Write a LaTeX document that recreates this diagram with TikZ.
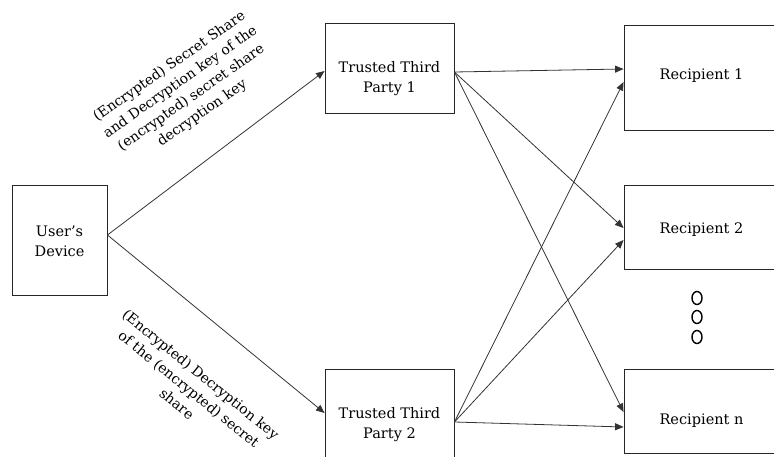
\documentclass[tikz,border=0pt]{standalone}
\usepackage{fontspec}
\setmainfont{DejaVu Serif}
\usetikzlibrary{arrows.meta,shapes.geometric}
\begin{document}
\begin{tikzpicture}[x=1pt,y=-1pt,
  box/.style={draw=black!85, line width=0.9pt, rectangle, inner sep=0pt},
  txt/.style={align=center, font=\fontsize{14.5}{20}\selectfont, inner sep=0pt},
  lbl/.style={align=center, font=\fontsize{14}{19}\selectfont, inner sep=0pt},
  conn/.style={draw=black!80, line width=0.8pt, -{Triangle[length=8.5pt,width=7pt]}},
  dot/.style={draw=black, line width=1.4pt, ellipse, minimum width=10pt, minimum height=13pt, inner sep=0pt}
]
\useasboundingbox (0,0) rectangle (774,457);
% boxes
\node[box, minimum width=95pt, minimum height=110pt] (dev) at (59.5,240) {};
\node[txt] (devt) at (59.5,241) {User's\\Device};
\node[box, minimum width=129pt, minimum height=90pt] (ttp1) at (389.5,68) {};
\node[txt] (ttp1t) at (389.5,79) {Trusted Third\\Party 1};
\node[box, minimum width=129pt, minimum height=112pt] (ttp2) at (389.5,425) {};
\node[txt] (ttp2t) at (389.5,425) {Trusted Third\\Party 2};
\node[box, minimum width=155pt, minimum height=105pt] (r1) at (701.5,77.5) {};
\node[txt] (r1t) at (701.5,76) {Recipient 1};
\node[box, minimum width=155pt, minimum height=84pt] (r2) at (701.5,227) {};
\node[txt] (r2t) at (701.5,230) {Recipient 2};
\node[box, minimum width=155pt, minimum height=84pt] (rn) at (701.5,411) {};
\node[txt] (rnt) at (701.5,421) {Recipient n};
% dots
\node[dot] (d1) at (697,298) {};
\node[dot] (d2) at (697,317) {};
\node[dot] (d3) at (697,337) {};
% connectors
\coordinate (devo) at ([yshift=5pt]dev.east);
\coordinate (t1o) at ([yshift=-4pt]ttp1.east);
\coordinate (t2o) at ([yshift=3pt]ttp2.east);
\draw[conn] (devo) -- ([yshift=-3pt]ttp1.west);
\draw[conn] (devo) -- ([yshift=12pt]ttp2.west);
\draw[conn] (t1o) -- ([yshift=8.5pt]r1.west);
\draw[conn] (t1o) -- ([yshift=-1pt]r2.west);
\draw[conn] (t1o) -- ([yshift=-1pt]rn.west);
\draw[conn] (t2o) -- ([yshift=-4.5pt]r1.west);
\draw[conn] (t2o) -- ([yshift=-13pt]r2.west);
\draw[conn] (t2o) -- ([yshift=-16pt]rn.west);
% labels
\node[lbl, rotate=35] (l1) at (186,90) {(Encrypted) Secret Share\\and Decryption key of the\\(encrypted) secret share\\decryption key};
\node[lbl, rotate=-39] (l2) at (189,389) {(Encrypted) Decryption key\\of the (encrypted) secret\\share};
\end{tikzpicture}
\end{document}
